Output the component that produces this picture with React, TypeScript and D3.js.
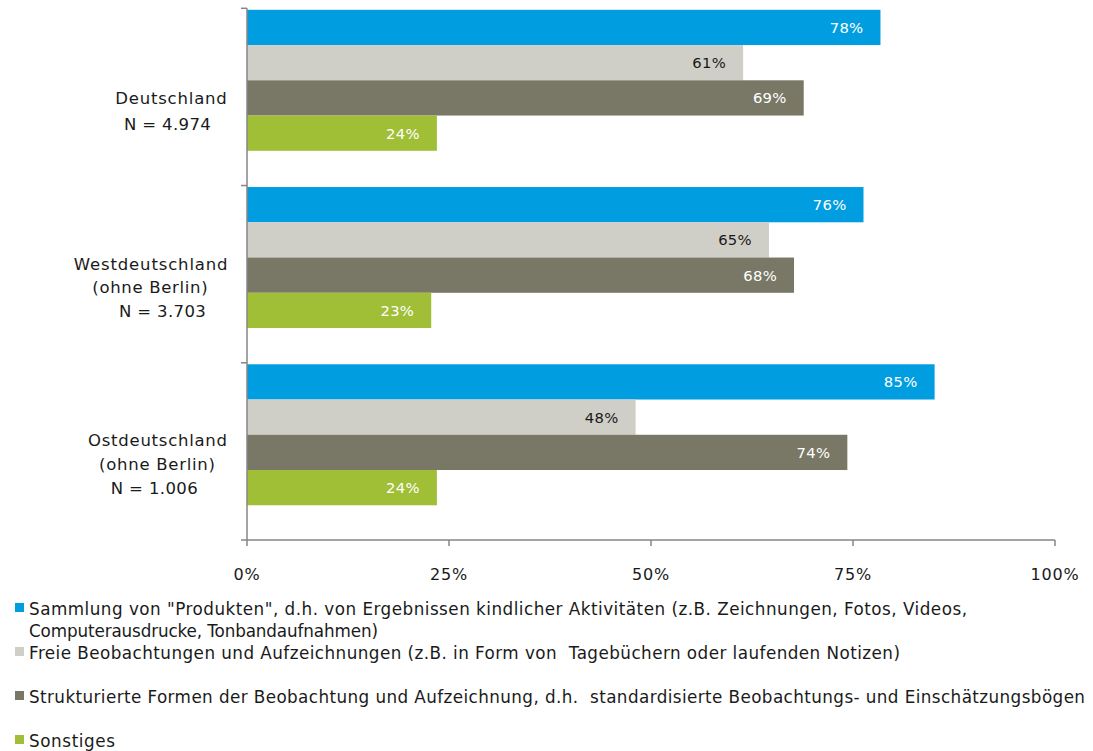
import React from "react";
import * as d3 from "d3";

const categories = ["Deutschland", "Westdeutschland", "Ostdeutschland"];
const categoryLines = [
  ["Deutschland", "N = 4.974"],
  ["Westdeutschland", "(ohne Berlin)", "N = 3.703"],
  ["Ostdeutschland", "(ohne Berlin)", "N = 1.006"],
];
const seriesNames = [
  'Sammlung von "Produkten", d.h. von Ergebnissen kindlicher Aktivitäten (z.B. Zeichnungen, Fotos, Videos, Computerausdrucke, Tonbandaufnahmen)',
  "Freie Beobachtungen und Aufzeichnungen (z.B. in Form von Tagebüchern oder laufenden Notizen)",
  "Strukturierte Formen der Beobachtung und Aufzeichnung, d.h. standardisierte Beobachtungs- und Einschätzungsbögen",
  "Sonstiges",
];
const produkteValues = [78.4, 76.3, 85.1];
const freieValues = [61.4, 64.6, 48.1];
const strukturierteValues = [68.9, 67.7, 74.3];
const sonstigesValues = [23.5, 22.8, 23.5];
const xTicks = [0, 25, 50, 75, 100];

const legendLines = [
  ['Sammlung von "Produkten", d.h. von Ergebnissen kindlicher Aktivitäten (z.B. Zeichnungen, Fotos, Videos,', "Computerausdrucke, Tonbandaufnahmen)"],
  ["Freie Beobachtungen und Aufzeichnungen (z.B. in Form von  Tagebüchern oder laufenden Notizen)"],
  ["Strukturierte Formen der Beobachtung und Aufzeichnung, d.h.  standardisierte Beobachtungs- und Einschätzungsbögen"],
  ["Sonstiges"],
];

// styling / layout (not data)
const colors = ["#009EE0", "#D0CFC7", "#797866", "#A1BE37"];
const labelColors = ["#ffffff", "#1a1a1a", "#ffffff", "#ffffff"];
const catLineLayout = [
  [{ cx: 171, dy: 7, w: 111.7 }, { cx: 167.4, dy: 33, w: 86.7 }],
  [{ cx: 150.7, dy: -4, w: 153.7 }, { cx: 150, dy: 19, w: 115.4 }, { cx: 162.4, dy: 42.5, w: 86.7 }],
  [{ cx: 157.5, dy: -5, w: 139 }, { cx: 157, dy: 18.5, w: 116 }, { cx: 154.2, dy: 42.5, w: 87 }],
];
const legendLayout = [
  [{ y: 615, w: 938 }, { y: 637, w: 349 }],
  [{ y: 659, w: 871 }],
  [{ y: 703, w: 1056 }],
  [{ y: 747, w: 86 }],
];

const FONT = "'DejaVu Sans', Verdana, sans-serif";
const AXIS = "#868686";
const TEXT = "#1a1a1a";

export default function App() {
  const W = 1093;
  const H = 751;
  const x = d3.scaleLinear().domain([0, 100]).range([247, 1055]);
  const y0 = d3.scaleBand<string>().domain(categories).range([8.3, 540]).paddingInner(0).paddingOuter(0);
  const seriesIdx = seriesNames.map((_, i) => String(i));
  const y1 = d3.scaleBand<string>().domain(seriesIdx).range([1.5, 142.5]).padding(0);
  const allValues = [produkteValues, freieValues, strukturierteValues, sonstigesValues];
  const bandTicks = categories.map((c) => y0(c) as number).concat([y0.range()[1]]);

  return (
    <svg
      width={W}
      height={H}
      style={{ position: "absolute", left: 0, top: 0, background: "#fff" }}
      fontFamily={FONT}
    >
      {/* bars */}
      {categories.map((c, ci) => (
        <g key={c} transform={`translate(0,${y0(c)})`}>
          {allValues.map((vals, si) => {
            const v = vals[ci];
            const yy = y1(String(si)) as number;
            const h = y1.bandwidth();
            return (
              <g key={si}>
                <rect x={x(0)} y={yy} width={x(v) - x(0)} height={h} fill={colors[si]} />
                <text
                  x={x(v) - 17}
                  y={yy + h / 2 + 5.5}
                  textAnchor="end"
                  fontSize={14.8}
                  letterSpacing={0.3}
                  fill={labelColors[si]}
                >
                  {`${Math.round(v)}%`}
                </text>
              </g>
            );
          })}
        </g>
      ))}

      {/* y axis */}
      <line x1={x(0)} x2={x(0)} y1={bandTicks[0]} y2={bandTicks[3]} stroke={AXIS} strokeWidth={1.5} />
      {bandTicks.map((t, i) => (
        <line key={i} x1={x(0) - 6} x2={x(0)} y1={t} y2={t} stroke={AXIS} strokeWidth={1.5} />
      ))}
      {/* x axis */}
      <line x1={x(0)} x2={x(100)} y1={540} y2={540} stroke={AXIS} strokeWidth={1.5} />
      {xTicks.map((t) => (
        <g key={t}>
          <line x1={x(t)} x2={x(t)} y1={540} y2={546} stroke={AXIS} strokeWidth={1.5} />
          <text x={x(t)} y={580} textAnchor="middle" fontSize={16} letterSpacing={0.8} fill={TEXT}>
            {`${t}%`}
          </text>
        </g>
      ))}

      {/* category labels */}
      {categories.map((c, ci) => {
        const center = (y0(c) as number) + y0.bandwidth() / 2;
        return (
          <g key={c}>
            {categoryLines[ci].map((line, li) => {
              const l = catLineLayout[ci][li];
              return (
                <text
                  key={li}
                  x={l.cx}
                  y={center + l.dy}
                  textAnchor="middle"
                  fontSize={16.5}
                  fill={TEXT}
                  textLength={l.w}
                  lengthAdjust="spacing"
                >
                  {line}
                </text>
              );
            })}
          </g>
        );
      })}

      {/* legend */}
      {legendLines.map((lines, si) => (
        <g key={si}>
          <rect x={15} y={legendLayout[si][0].y - 12} width={9} height={9} fill={colors[si]} />
          {lines.map((line, li) => (
            <text
              key={li}
              x={29}
              y={legendLayout[si][li].y}
              fontSize={16.8}
              fill={TEXT}
              textLength={legendLayout[si][li].w}
              lengthAdjust="spacing"
              style={{ whiteSpace: "pre" }}
            >
              {line}
            </text>
          ))}
        </g>
      ))}
    </svg>
  );
}
